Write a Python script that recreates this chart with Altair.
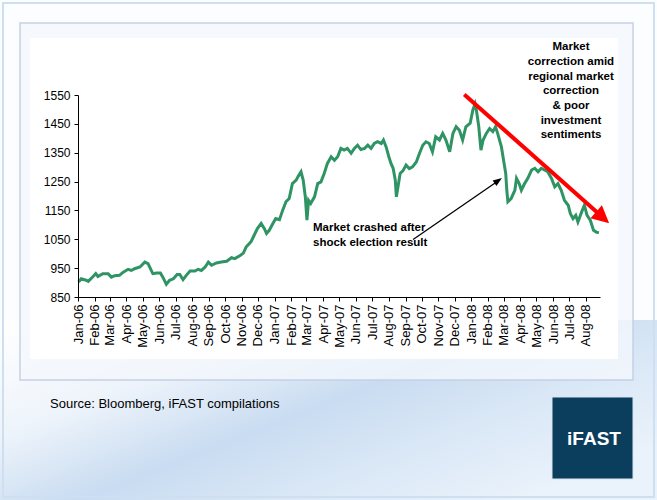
import altair as alt
import pandas as pd

# ---------------- data ----------------
dates_2006 = ["2006-01-02", "2006-01-07", "2006-01-16", "2006-01-20", "2006-01-29", "2006-02-03",
              "2006-02-07", "2006-02-16", "2006-02-26", "2006-03-04", "2006-03-10", "2006-03-19",
              "2006-03-26", "2006-04-04", "2006-04-10", "2006-04-16", "2006-04-26", "2006-05-05",
              "2006-05-11", "2006-05-17", "2006-05-20", "2006-05-27", "2006-06-03", "2006-06-08",
              "2006-06-14", "2006-06-20", "2006-06-27", "2006-07-04", "2006-07-09", "2006-07-15",
              "2006-07-21", "2006-07-28", "2006-08-06", "2006-08-12", "2006-08-18", "2006-08-25",
              "2006-08-31", "2006-09-06", "2006-09-15", "2006-09-24", "2006-10-04", "2006-10-13",
              "2006-10-19", "2006-10-29", "2006-11-04", "2006-11-09", "2006-11-18", "2006-11-24",
              "2006-11-30", "2006-12-07", "2006-12-13", "2006-12-17", "2006-12-22", "2006-12-28"]
values_2006 = [902, 913, 908, 904, 921, 931,
               921, 931, 931, 919, 924, 925,
               936, 946, 942, 948, 954, 971,
               966, 942, 931, 933, 933, 917,
               894, 908, 913, 928, 928, 910,
               925, 940, 940, 946, 942, 954,
               971, 960, 968, 971, 974, 986,
               983, 994, 1002, 1023, 1041, 1064,
               1087, 1105, 1087, 1070, 1081, 1102]

dates_2007 = ["2007-01-03", "2007-01-10", "2007-01-16", "2007-01-22", "2007-01-28", "2007-02-03",
              "2007-02-10", "2007-02-14", "2007-02-19", "2007-02-23", "2007-02-27", "2007-03-02",
              "2007-03-05", "2007-03-09", "2007-03-16", "2007-03-22", "2007-03-28", "2007-04-03",
              "2007-04-09", "2007-04-16", "2007-04-22", "2007-04-28", "2007-05-04", "2007-05-10",
              "2007-05-16", "2007-05-23", "2007-05-29", "2007-06-04", "2007-06-10", "2007-06-17",
              "2007-06-23", "2007-06-29", "2007-07-05", "2007-07-11", "2007-07-18", "2007-07-22",
              "2007-07-27", "2007-08-01", "2007-08-05", "2007-08-09", "2007-08-13", "2007-08-15",
              "2007-08-18", "2007-08-22", "2007-08-27", "2007-09-02", "2007-09-08", "2007-09-14",
              "2007-09-21", "2007-09-27", "2007-10-03", "2007-10-09", "2007-10-15", "2007-10-21",
              "2007-10-27", "2007-11-03", "2007-11-09", "2007-11-15", "2007-11-22", "2007-11-28",
              "2007-12-04", "2007-12-10", "2007-12-16", "2007-12-22", "2007-12-30"]
values_2007 = [1122, 1118, 1151, 1180, 1191, 1243,
               1255, 1269, 1284, 1255, 1197, 1116,
               1185, 1174, 1197, 1243, 1249, 1278,
               1313, 1336, 1324, 1336, 1365, 1359,
               1365, 1348, 1365, 1376, 1361, 1365,
               1376, 1365, 1382, 1388, 1382, 1394,
               1370, 1336, 1313, 1296, 1255, 1197,
               1232, 1278, 1287, 1307, 1295, 1301,
               1318, 1348, 1376, 1388, 1382, 1353,
               1405, 1394, 1417, 1394, 1353, 1417,
               1440, 1428, 1394, 1440, 1452]

dates_2008 = ["2008-01-04", "2008-01-08", "2008-01-11", "2008-01-15", "2008-01-19", "2008-01-23",
              "2008-01-29", "2008-02-04", "2008-02-10", "2008-02-15", "2008-02-19", "2008-02-26",
              "2008-03-01", "2008-03-05", "2008-03-07", "2008-03-09", "2008-03-15", "2008-03-22",
              "2008-03-25", "2008-03-30", "2008-04-03", "2008-04-09", "2008-04-15", "2008-04-22",
              "2008-04-28", "2008-05-04", "2008-05-10", "2008-05-16", "2008-05-22", "2008-05-29",
              "2008-06-04", "2008-06-10", "2008-06-16", "2008-06-22", "2008-06-29", "2008-07-03",
              "2008-07-08", "2008-07-13", "2008-07-17", "2008-07-24", "2008-07-29", "2008-08-03",
              "2008-08-09", "2008-08-15", "2008-08-20", "2008-08-25"]
values_2008 = [1498, 1519, 1492, 1440, 1359, 1394,
               1417, 1434, 1423, 1440, 1417, 1370,
               1324, 1278, 1220, 1180, 1191, 1220,
               1261, 1243, 1220, 1243, 1261, 1290,
               1296, 1284, 1296, 1290, 1284, 1261,
               1232, 1243, 1220, 1185, 1168, 1139,
               1122, 1133, 1110, 1145, 1168, 1133,
               1116, 1081, 1075, 1072]

y_ticks = [850, 950, 1050, 1150, 1250, 1350, 1450, 1550]

# annotation arrows, in data coordinates
red_arrow_dates = ["2007-12-19", "2008-09-02"]
red_arrow_values = [1552, 1125]
red_tip_date, red_tip_value = "2008-09-13", 1106
black_arrow_dates = ["2007-09-15", "2008-02-21"]
black_arrow_values = [1049, 1254]
black_tip_date, black_tip_value = "2008-02-27", 1262

crash_text = "Market crashed after\nshock election result"
correction_text = ("Market\ncorrection amid\nregional market\ncorrection\n& poor\n"
                   "investment\nsentiments")
source_text = "Source: Bloomberg, iFAST compilations"
logo_text = "iFAST"

# ---------------- layout / style ----------------
X0, Y0 = 78, 95          # plot origin on the page
PW, PH = 522, 202        # plot area
FONT = "Liberation Sans"
GREEN = "#2f9463"

series = pd.DataFrame({"date": dates_2006 + dates_2007 + dates_2008,
                       "value": values_2006 + values_2007 + values_2008})

xenc = alt.X("date:T",
             scale=alt.Scale(type="utc",
                             domain=[alt.DateTime(year=2006, month=1, date=1, utc=True),
                                     alt.DateTime(year=2008, month=8, date=27, utc=True)]),
             axis=alt.Axis(labelExpr="utcFormat(datum.value, '%b-%y')",
                           tickCount=alt.TimeIntervalStep(interval="month", step=1),
                           labelAngle=270, labelAlign="right", labelBaseline="middle",
                           labelFont=FONT, labelFontSize=13, labelColor="black",
                           labelOverlap=False, labelFlush=False, labelPadding=3,
                           domainColor="black", tickColor="black", tickSize=4,
                           grid=False, title=None, zindex=1))
yenc = alt.Y("value:Q",
             scale=alt.Scale(domain=[850, 1550], nice=False, zero=False),
             axis=alt.Axis(values=y_ticks, format="d",
                           labelFont=FONT, labelFontSize=12, labelColor="black",
                           labelPadding=4, domainColor="black", tickColor="black",
                           tickSize=4, grid=False, title=None, zindex=1))

one = alt.Data(values=[{"k": 0}])


def rect(x1, y1, x2, y2, **kw):
    return alt.Chart(one).mark_rect(**kw).encode(
        x=alt.value(x1 - X0), x2=alt.value(x2 - X0),
        y=alt.value(y1 - Y0), y2=alt.value(y2 - Y0))


def text(t, x, y, **kw):
    return alt.Chart(alt.Data(values=[{"t": t}])).mark_text(lineBreak="\n", **kw).encode(
        text="t:N", x=alt.value(x - X0), y=alt.value(y - Y0))


page_bg = rect(0, 0, 657, 500, fill="#fbfdff")
swoosh = rect(0, 320, 657, 500, fill=alt.LinearGradient(
    gradient="linear", x1=0, y1=0, x2=1, y2=0.7,
    stops=[alt.GradientStop(offset=0, color="#ffffff"),
           alt.GradientStop(offset=0.3, color="#eef4fb"),
           alt.GradientStop(offset=0.55, color="#c9dcf1"),
           alt.GradientStop(offset=0.75, color="#d9e7f6"),
           alt.GradientStop(offset=1, color="#eaf2fb")]))
outer_border = rect(3, 3, 654, 497, fill="transparent", stroke="#cddff0", strokeWidth=2)
inner_frame = rect(20, 23, 633, 380, fill="#f4f8fc", fillOpacity=0.8,
                   stroke="#c6d0e6", strokeWidth=1.5)
white_box = rect(30, 38, 618, 359, fill="#ffffff")

line = alt.Chart(series).mark_line(color=GREEN, strokeWidth=3).encode(x=xenc, y=yenc)

red_df = pd.DataFrame({"date": red_arrow_dates, "value": red_arrow_values})
red_line = alt.Chart(red_df).mark_line(color="#ff0000", strokeWidth=4, strokeCap="butt").encode(
    x=xenc, y=yenc)
red_head = alt.Chart(pd.DataFrame({"date": [red_tip_date], "value": [red_tip_value]})).mark_point(
    shape="M0,0L-2,-1L-2,1Z", filled=True, size=300, angle=41.5, color="#ff0000",
    opacity=1, strokeWidth=0).encode(x=xenc, y=yenc)

black_df = pd.DataFrame({"date": black_arrow_dates, "value": black_arrow_values})
black_line = alt.Chart(black_df).mark_line(color="black", strokeWidth=1.3).encode(x=xenc, y=yenc)
black_head = alt.Chart(pd.DataFrame({"date": [black_tip_date], "value": [black_tip_value]})).mark_point(
    shape="M0,0L-2,-0.75L-2,0.75Z", filled=True, size=81, angle=325.3, color="black",
    opacity=1, strokeWidth=0).encode(x=xenc, y=yenc)

crash_label = text(crash_text, 313, 227.7, align="left", baseline="middle", font=FONT,
                   fontWeight="bold", fontSize=11.5, lineHeight=15.6, color="black")
corr_label = text(correction_text, 571, 47.3, align="center", baseline="middle", font=FONT,
                  fontWeight="bold", fontSize=11.5, lineHeight=14.7, color="black")
source_label = text(source_text, 50, 404, align="left", baseline="middle", font=FONT,
                    fontSize=13, color="black")
logo_box = rect(552, 397, 633, 479, fill="#0b3d5c", stroke="#d8e4f0", strokeWidth=1)
logo_label = text(logo_text, 594, 439, align="center", baseline="middle", font=FONT,
                  fontWeight="bold", fontSize=19, color="white")

chart = alt.layer(
    page_bg, swoosh, outer_border, inner_frame, white_box,
    line, red_line, red_head, black_line, black_head,
    crash_label, corr_label, source_label, logo_box, logo_label,
).properties(
    width=PW, height=PH,
    autosize=alt.AutoSizeParams(type="none"),
    padding={"left": X0, "top": Y0, "right": 657 - X0 - PW, "bottom": 500 - Y0 - PH},
).configure(background="white").configure_view(strokeWidth=0)

chart.save("out.html", embed_options={"renderer": "svg", "actions": False})
